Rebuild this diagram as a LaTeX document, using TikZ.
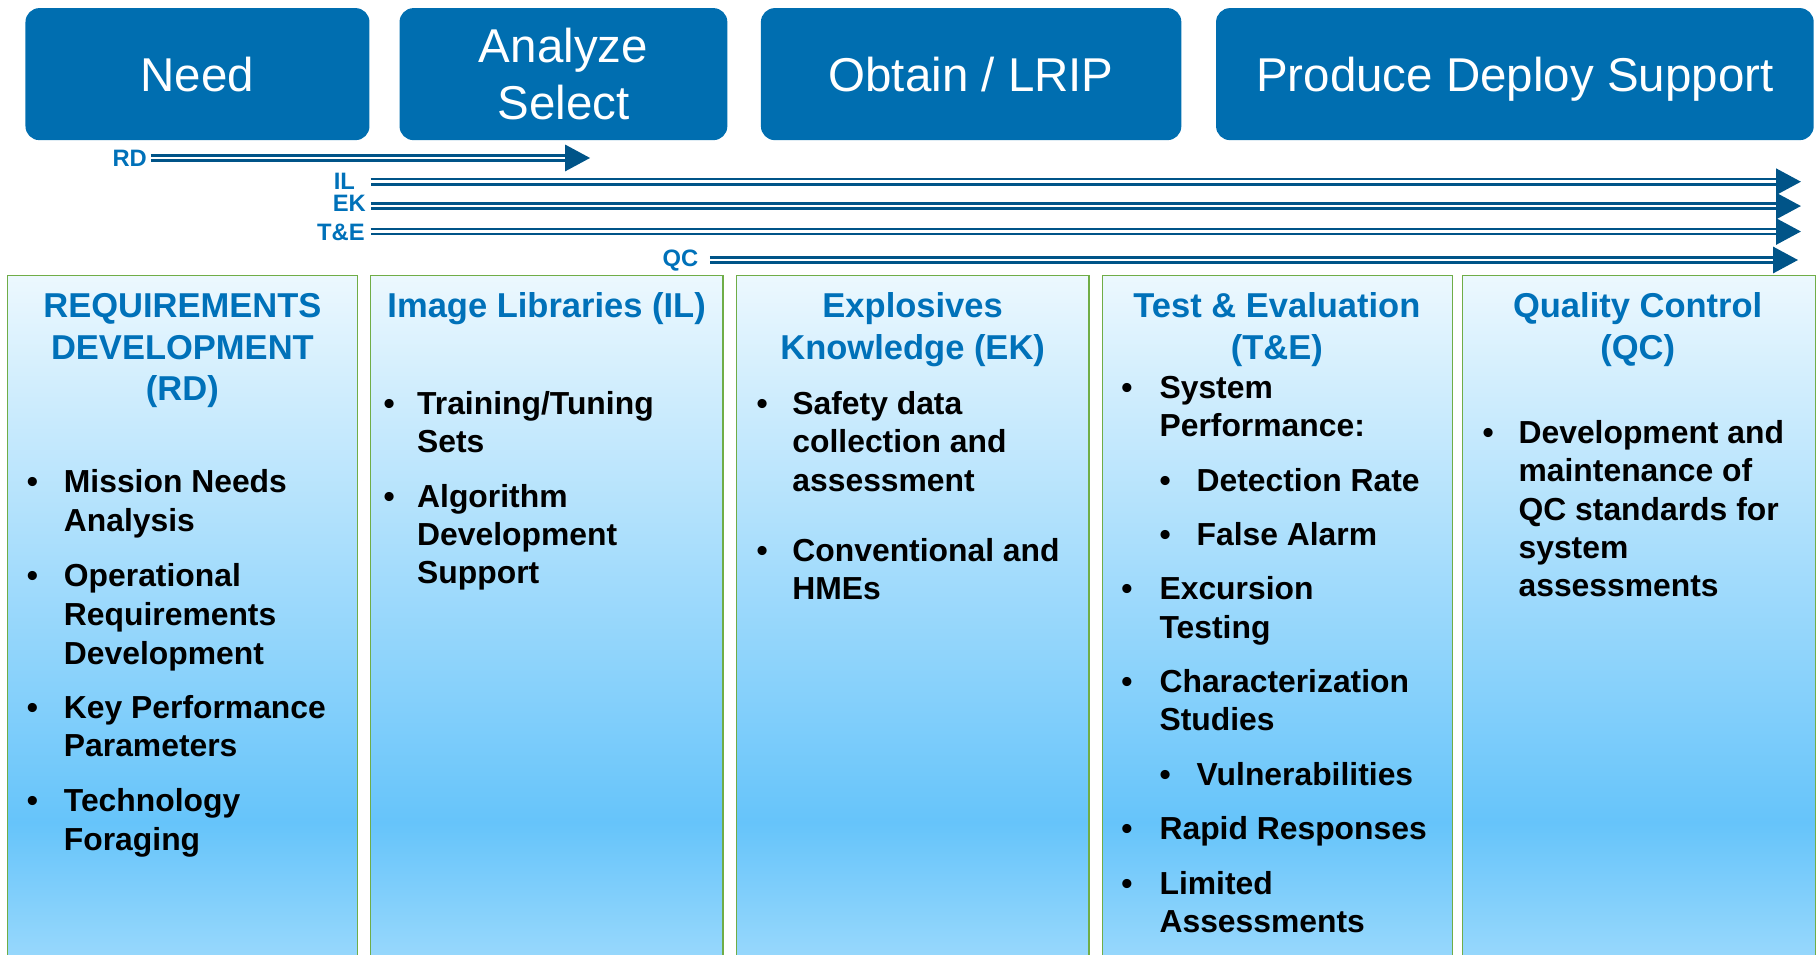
\documentclass[tikz,border=0pt]{standalone}
\usepackage{fontspec}
\setmainfont{Liberation Sans}
\usetikzlibrary{arrows.meta}
\definecolor{phaseblue}{HTML}{006EB0}
\definecolor{headblue}{HTML}{0071B9}
\definecolor{flowblue}{HTML}{005488}
\definecolor{edgegreen}{HTML}{70AD47}
\definecolor{cbot}{RGB}{152,216,252}
\definecolor{cmid}{RGB}{102,196,250}
\definecolor{ctop}{RGB}{236,248,254}
% lane fill: pale at the top, strongest near the lower fifth, lighter again at the bottom
\pgfdeclareverticalshading{lanefill}{100bp}{color(0bp)=(cbot); color(25bp)=(cbot); color(35bp)=(cmid); color(75bp)=(ctop); color(100bp)=(ctop)}
\begin{document}
\begin{tikzpicture}[x=1pt,y=-1pt,
  phase/.style={fill=phaseblue, rounded corners=12pt, inner sep=0pt, text=white,
    font=\fontsize{41pt}{49pt}\selectfont, align=center, text depth=0pt},
  lane/.style={shading=lanefill, inner sep=0pt, anchor=north west, minimum height=590pt},
  laneedge/.style={draw=edgegreen, line width=1.2pt},
  head/.style={text=headblue, font=\bfseries\fontsize{29.8pt}{36pt}\selectfont, inner sep=0pt, anchor=base},
  body/.style={text=black, font=\bfseries\fontsize{27.5pt}{33pt}\selectfont, inner sep=0pt, anchor=base west},
  dot/.style={body, anchor=base},
  tag/.style={text=headblue, font=\bfseries\fontsize{20.5pt}{24pt}\selectfont, inner sep=0pt, anchor=base east},
  flow/.style={draw=flowblue, line width=2.3pt, double=white, double distance=2.25pt,
    -{Triangle[length=21.5pt,width=22.5pt]}}
]
\useasboundingbox (0,0) rectangle (1568,824);

% phase boxes
\node[phase, minimum width=297pt, minimum height=114pt] (need) at (170.5,64) {Need};
\node[phase, minimum width=283pt, minimum height=114pt] (analyze) at (486.5,64) {Analyze\\Select};
\node[phase, minimum width=363pt, minimum height=114pt] (obtain) at (838.5,64) {Obtain / LRIP};
\node[phase, minimum width=516pt, minimum height=114pt] (produce) at (1308,64) {Produce Deploy Support};

% activity spans
\node[tag] (rdtag) at (127,144) {RD};
\node[tag] (iltag) at (306.6,164) {IL};
\node[tag] (ektag) at (316,182.2) {EK};
\node[tag] (tetag) at (315,207.3) {T\&E};
\node[tag] (qctag) at (603,230.5) {QC};
\coordinate (rdstart) at (130,136.4);   \coordinate (rdend) at (509.5,136.4);
\coordinate (ilstart) at (320,156.9);   \coordinate (ilend) at (1555,156.9);
\coordinate (ekstart) at (320,177.9);   \coordinate (ekend) at (1555,177.9);
\coordinate (testart) at (320,199.9);   \coordinate (teend) at (1555,199.9);
\coordinate (qcstart) at (613,224.5);   \coordinate (qcend) at (1552.5,224.5);
\draw[flow] (rdstart) -- (rdend);
\draw[flow] (ilstart) -- (ilend);
\draw[flow] (ekstart) -- (ekend);
\draw[flow] (testart) -- (teend);
\draw[flow] (qcstart) -- (qcend);

% lanes
\node[lane, minimum width=302pt] (lane1) at (6.5,238) {};
\node[lane, minimum width=304pt] (lane2) at (320,238) {};
\node[lane, minimum width=304pt] (lane3) at (636,238) {};
\node[lane, minimum width=301.5pt] (lane4) at (952,238) {};
\node[lane, minimum width=304.5pt] (lane5) at (1262.5,238) {};
\foreach \l in {lane1,lane2,lane3,lane4,lane5}
  \draw[laneedge] (\l.south west) |- (\l.north east) -- (\l.south east);

% lane 1
\node[head] (h1a) at (157.5,274) {REQUIREMENTS};
\node[head] (h1b) at (157.5,310) {DEVELOPMENT};
\node[head] (h1c) at (157.5,346) {(RD)};
\node[dot] (d1a) at (28,425.5) {•};
\node[body] (t1a) at (55,425.5) {Mission Needs};
\node[body] (t1b) at (55,459) {Analysis};
\node[dot] (d1b) at (28,506.5) {•};
\node[body] (t1c) at (55,506.5) {Operational};
\node[body] (t1d) at (55,540) {Requirements};
\node[body] (t1e) at (55,573.5) {Development};
\node[dot] (d1c) at (28,620) {•};
\node[body] (t1f) at (55,620) {Key Performance};
\node[body] (t1g) at (55,653.5) {Parameters};
\node[dot] (d1d) at (28,700.5) {•};
\node[body] (t1h) at (55,700.5) {Technology};
\node[body] (t1i) at (55,734) {Foraging};

% lane 2
\node[head] (h2a) at (472,274) {Image Libraries (IL)};
\node[dot] (d2a) at (336,358) {•};
\node[body] (t2a) at (360,358) {Training/Tuning};
\node[body] (t2b) at (360,391) {Sets};
\node[dot] (d2b) at (336,438) {•};
\node[body] (t2c) at (360,438) {Algorithm};
\node[body] (t2d) at (360,471) {Development};
\node[body] (t2e) at (360,504) {Support};

% lane 3
\node[head] (h3a) at (788,274) {Explosives};
\node[head] (h3b) at (788,310) {Knowledge (EK)};
\node[dot] (d3a) at (658,358) {•};
\node[body] (t3a) at (684,358) {Safety data};
\node[body] (t3b) at (684,391) {collection and};
\node[body] (t3c) at (684,424) {assessment};
\node[dot] (d3b) at (658,485) {•};
\node[body] (t3d) at (684,485) {Conventional and};
\node[body] (t3e) at (684,518) {HMEs};

% lane 4
\node[head] (h4a) at (1102.5,274) {Test \& Evaluation};
\node[head] (h4b) at (1102.5,310) {(T\&E)};
\node[dot] (d4a) at (973,344) {•};
\node[body] (t4a) at (1001,344) {System};
\node[body] (t4b) at (1001,377) {Performance:};
\node[dot] (d4b) at (1006,424) {•};
\node[body] (t4c) at (1033,424) {Detection Rate};
\node[dot] (d4c) at (1006,471) {•};
\node[body] (t4d) at (1033,471) {False Alarm};
\node[dot] (d4d) at (973,518) {•};
\node[body] (t4e) at (1001,518) {Excursion};
\node[body] (t4f) at (1001,551) {Testing};
\node[dot] (d4e) at (973,598) {•};
\node[body] (t4g) at (1001,598) {Characterization};
\node[body] (t4h) at (1001,631) {Studies};
\node[dot] (d4f) at (1006,678) {•};
\node[body] (t4i) at (1033,678) {Vulnerabilities};
\node[dot] (d4g) at (973,725) {•};
\node[body] (t4j) at (1001,725) {Rapid Responses};
\node[dot] (d4h) at (973,772) {•};
\node[body] (t4k) at (1001,772) {Limited};
\node[body] (t4l) at (1001,805) {Assessments};

% lane 5
\node[head] (h5a) at (1414,274) {Quality Control};
\node[head] (h5b) at (1414,310) {(QC)};
\node[dot] (d5a) at (1285,383) {•};
\node[body] (t5a) at (1311,383) {Development and};
\node[body] (t5b) at (1311,416) {maintenance of};
\node[body] (t5c) at (1311,449) {QC standards for};
\node[body] (t5d) at (1311,482) {system};
\node[body] (t5e) at (1311,515) {assessments};
\end{tikzpicture}
\end{document}
